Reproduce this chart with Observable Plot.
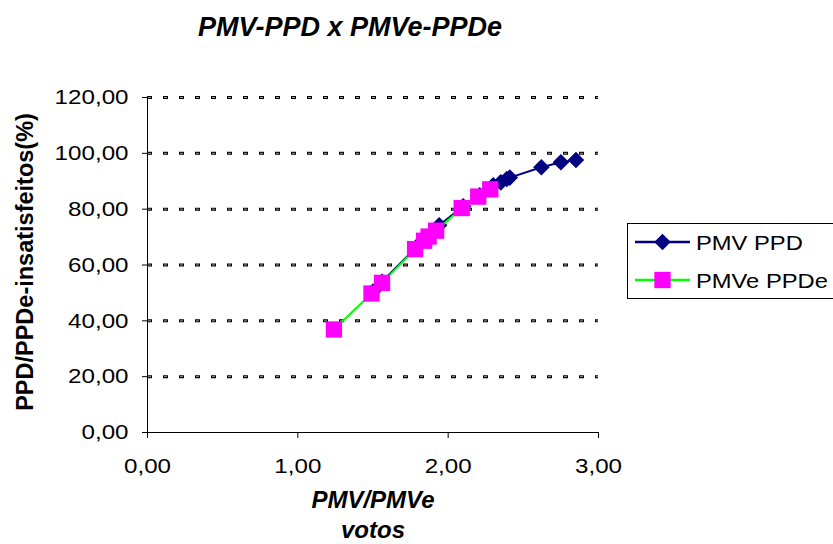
<!DOCTYPE html>
<html>
<head>
<meta charset="utf-8">
<script src="https://cdn.jsdelivr.net/npm/d3@7"></script>
<script src="https://cdn.jsdelivr.net/npm/@observablehq/plot@0.6"></script>
<style>
  html, body { margin: 0; padding: 0; background: #fff; }
  #chart svg { display: block; }
</style>
</head>
<body>
<div id="chart"></div>
<script>
// PMV / PPD series (diamonds)
const pmvX = [1.50, 1.56, 1.79, 1.86, 1.90, 1.94, 2.10, 2.21, 2.30, 2.35, 2.39, 2.41, 2.62, 2.75, 2.85];
const ppdY = [50.5, 54.0, 66.5, 69.5, 71.5, 74.2, 81.0, 85.0, 88.6, 89.6, 90.8, 91.3, 95.0, 96.8, 97.6];

// PMVe / PPDe series (squares)
const pmveX = [1.24, 1.49, 1.56, 1.78, 1.84, 1.87, 1.92, 2.09, 2.20, 2.28];
const ppdeY = [36.9, 49.8, 53.6, 65.7, 68.7, 70.2, 72.3, 80.4, 84.5, 87.1];

const seriesNames = ["PMV PPD", "PMVe PPDe"];
const xTicks = [0, 1, 2, 3];
const yTicks = [0, 20, 40, 60, 80, 100, 120];

const titleText = "PMV-PPD x PMVe-PPDe";
const xLabelLines = ["PMV/PMVe", "votos"];
const yLabelText = "PPD/PPDe-insatisfeitos(%)";

const fmt = d => d.toFixed(2).replace(".", ",");
const pmv = pmvX.map((x, i) => ({x, y: ppdY[i]}));
const pmve = pmveX.map((x, i) => ({x, y: ppdeY[i]}));

const navy = "#000080", green = "#00ff00", magenta = "#ff00ff";
const font = "'Liberation Sans', Arial, Helvetica, sans-serif";

const chart = Plot.plot({
  width: 833,
  height: 544,
  marginLeft: 147,
  marginRight: 235,
  marginTop: 97,
  marginBottom: 112,
  x: {domain: [0, 3], axis: null},
  y: {domain: [0, 120], axis: null},
  style: {fontFamily: font, fontSize: "21px", color: "#000", background: "#fff", overflow: "visible"},
  marks: [
    // dotted horizontal gridlines: dark outline with grey core
    Plot.gridY(yTicks.filter(d => d > 0), {stroke: "#000", strokeOpacity: 1, strokeWidth: 3, strokeDasharray: "5 11"}),
    Plot.gridY(yTicks.filter(d => d > 0), {stroke: "#9a9a9a", strokeOpacity: 1, strokeWidth: 1, strokeDasharray: "3 13", strokeDashoffset: -1}),
    Plot.ruleX([0], {stroke: "#000", strokeWidth: 1}),
    Plot.ruleY([0], {stroke: "#000", strokeWidth: 1}),
    Plot.axisY({ticks: yTicks, tickFormat: fmt, tickSize: 5, tickPadding: 14, label: null, fontSize: 21}),
    Plot.axisX({ticks: xTicks, tickFormat: fmt, tickSize: 6, tickPadding: 20, label: null, fontSize: 21}),
    Plot.line(pmv, {x: "x", y: "y", stroke: navy, strokeWidth: 2}),
    Plot.dot(pmv, {x: "x", y: "y", symbol: "square", rotate: 45, r: 6.6, fill: navy, stroke: null}),
    Plot.line(pmve, {x: "x", y: "y", stroke: green, strokeWidth: 2}),
    Plot.dot(pmve, {x: "x", y: "y", symbol: "square", r: 9.2, fill: magenta, stroke: null})
  ]
});

document.getElementById("chart").appendChild(chart);
const svg = d3.select(chart);

// widen the regular-weight labels slightly
function widen(sel, k) {
  sel.each(function() {
    const len = this.getComputedTextLength();
    if (len > 0) {
      this.setAttribute("textLength", (len * k).toFixed(1));
      this.setAttribute("lengthAdjust", "spacingAndGlyphs");
    }
  });
}
widen(svg.selectAll("g[aria-label='y-axis tick label'] text, g[aria-label='x-axis tick label'] text"), 1.15);

// title
svg.append("text")
  .attr("x", 198).attr("y", 36)
  .attr("text-anchor", "start")
  .attr("font-family", font).attr("font-size", 27)
  .attr("font-weight", "bold").attr("font-style", "italic")
  .text(titleText);

// x-axis title, two lines
svg.append("g").selectAll("text").data(xLabelLines).join("text")
  .attr("x", 373)
  .attr("y", (d, i) => 508 + i * 30)
  .attr("text-anchor", "middle")
  .attr("font-family", font).attr("font-size", 24)
  .attr("font-weight", "bold").attr("font-style", "italic")
  .text(d => d);

// y-axis title
svg.append("text")
  .attr("transform", "translate(33,262) rotate(-90)")
  .attr("text-anchor", "middle")
  .attr("font-family", font).attr("font-size", 23.5)
  .attr("font-weight", "bold")
  .text(yLabelText);

// legend
const lg = svg.append("g");
lg.append("rect")
  .attr("x", 627.5).attr("y", 223.5).attr("width", 240).attr("height", 75)
  .attr("fill", "#fff").attr("stroke", "#000").attr("stroke-width", 1);
const rows = [
  {name: seriesNames[0], color: navy, y: 242, shape: "diamond"},
  {name: seriesNames[1], color: green, y: 280, shape: "square"}
];
rows.forEach(r => {
  lg.append("line").attr("x1", 635).attr("x2", 690).attr("y1", r.y).attr("y2", r.y)
    .attr("stroke", r.color).attr("stroke-width", 2.5);
  if (r.shape === "diamond") {
    lg.append("path")
      .attr("d", d3.symbol(d3.symbolSquare, 6.6 * 6.6 * Math.PI)())
      .attr("transform", `translate(662.5,${r.y}) rotate(45)`)
      .attr("fill", navy);
  } else {
    lg.append("path")
      .attr("d", d3.symbol(d3.symbolSquare, 9.2 * 9.2 * Math.PI)())
      .attr("transform", `translate(662.5,${r.y})`)
      .attr("fill", magenta);
  }
  const t = lg.append("text").attr("x", 696).attr("y", r.y + 8)
    .attr("text-anchor", "start")
    .attr("font-family", font).attr("font-size", 21)
    .text(r.name);
  widen(t, 1.13);
});
</script>
</body>
</html>
